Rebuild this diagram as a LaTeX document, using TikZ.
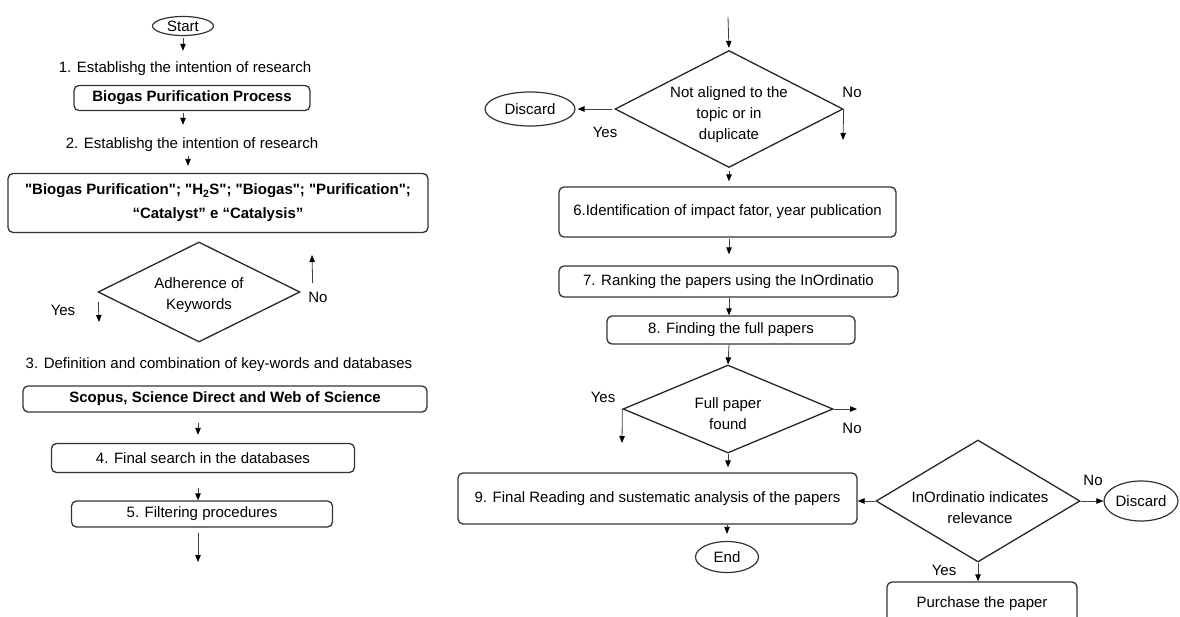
\documentclass[tikz,border=0pt]{standalone}
\usepackage{fontspec}
\setmainfont{Liberation Sans}[Ligatures=TeXOff]
\usetikzlibrary{shapes.geometric,arrows.meta}

\begin{document}
\begin{tikzpicture}[x=1pt, y=-1pt,
        every node/.style={font=\fontsize{15}{21}\selectfont},
        box/.style={draw=black!80, line width=1.3pt, rounded corners=5pt, inner sep=0pt, align=center},
        term/.style={draw=black!80, line width=1.2pt, ellipse, inner sep=0pt},
        choice/.style={draw=black!85, line width=1.3pt, diamond, inner sep=0pt},
        say/.style={inner sep=0pt, align=center},
        lbl/.style={inner xsep=0pt, inner ysep=4pt},
        arr/.style={draw=black!75, line width=0.8pt, -{Triangle[length=7pt,width=5.5pt,color=black]}}]
            \useasboundingbox (0,0) rectangle (1180,616);

            % Left column: steps 1 to 5
            \node[term, minimum width=61pt, minimum height=19pt] (start) at (183,26) {Start};
            \node[lbl] (t1) at (185,69) {1. Establishg the intention of research};
            \node[box, minimum width=236pt, minimum height=25pt] (b1) at (192,98) {\textbf{Biogas Purification Process}};
            \node[lbl] (t2) at (192,145) {2. Establishg the intention of research};
            \node[box, minimum width=420pt, minimum height=59pt, font=\fontsize{15}{24}\selectfont] (kw) at (218,203)
                {\textbf{"Biogas Purification"; "H\textsubscript{2}S"; "Biogas"; "Purification";}\\\textbf{“Catalyst” e “Catalysis”}};
            \node[choice, minimum width=202pt, minimum height=100pt] (adh) at (199,292) {};
            \node[say] (adht) at (199,295) {Adherence of\\Keywords};
            \node[say] (adhy) at (63,310) {Yes};
            \node[say] (adhn) at (318,297) {No};
            \node[lbl] (t3) at (219,365) {3. Definition and combination of key-words and databases};
            \node[box, minimum width=404pt, minimum height=26pt] (db) at (225,399) {\textbf{Scopus, Science Direct and Web of Science}};
            \node[box, minimum width=303pt, minimum height=29pt] (b4) at (203,458) {4. Final search in the databases};
            \node[box, minimum width=261pt, minimum height=26pt] (b5) at (202,514) {5. Filtering procedures};
            \coordinate (adhyes) at (99,322);
            \coordinate (adhback) at (312,255);
            \coordinate (outL) at (198,562);

            \draw[arr, shorten <=2pt, shorten >=7pt] (start.south) -- (start.south |- t1.north);
            \draw[arr, shorten <=2pt, shorten >=9pt] (b1.south -| start) -- (t2.north -| start);
            \draw[arr, shorten >=7pt] (t2.south -| 188,0) -- (kw.north -| 188,0);
            \draw[arr] ([xshift=1pt,yshift=-10pt]adh.west) -- (adhyes);
            \draw[arr] ([xshift=12pt,yshift=9pt]adh.east) -- (adhback);
            \draw[arr, shorten <=10pt, shorten >=8pt] (db.south -| outL) -- (b4.north -| outL);
            \draw[arr, shorten <=15pt] (b4.south -| outL) -- (b5.north -| outL);
            \draw[arr, shorten <=5pt] (b5.south -| outL) -- (outL);

            % Right column: steps 6 to 9
            \coordinate (inR) at (728,17);
            \node[choice, minimum width=228pt, minimum height=117pt] (nal) at (729,109) {};
            \node[say] (nalt) at (729,115) {Not aligned to the\\topic or in\\duplicate};
            \node[term, minimum width=90pt, minimum height=34pt] (dis1) at (530,109) {Discard};
            \node[say] (naly) at (605,132) {Yes};
            \node[say] (naln) at (852,92) {No};
            \coordinate (nalno) at (843,140);
            \node[box, minimum width=337pt, minimum height=50pt] (b6) at (727.5,212) {6.Identification of impact fator, year publication};
            \node[box, minimum width=339pt, minimum height=31pt] (b7) at (728.5,281.5) {7. Ranking the papers using the InOrdinatio};
            \node[box, minimum width=248pt, minimum height=28pt] (b8) at (731,330) {8. Finding the full papers};
            \node[choice, minimum width=210pt, minimum height=88pt] (fp) at (728,409) {};
            \node[say] (fpt) at (728,414) {Full paper\\found};
            \node[say] (fpy) at (603,397) {Yes};
            \node[say] (fpn) at (852,428) {No};
            \coordinate (fpyes) at (622,443);
            \coordinate (fpno) at (857,409);
            \node[box, minimum width=399pt, minimum height=51pt] (b9) at (657.5,498.5) {9. Final Reading and sustematic analysis of the papers};
            \node[term, minimum width=63pt, minimum height=31pt] (end) at (727,557) {End};

            \draw[arr, shorten >=2pt] (inR) -- (nal.north);
            \draw[arr, shorten <=2pt, shorten >=2pt] (nal.west) -- (dis1.east);
            \draw[arr] (nal.east) -- (nalno);
            \draw[arr, shorten <=3pt, shorten >=5pt] (nal.south) -- (nal.south |- b6.north);
            \draw[arr, shorten <=1pt, shorten >=11pt] (b6.south -| nal) -- (b7.north -| nal);
            \draw[arr] (b7.south -| nal) -- (b8.north -| nal);
            \draw[arr] (b8.south -| nal) -- (fp.north);
            \draw[arr] (fp.west) -- (fpyes);
            \draw[arr] (fp.east) -- (fpno);
            \draw[arr, shorten >=5pt] (fp.south) -- (fp.south |- b9.north);
            \draw[arr, shorten >=7pt] (b9.south -| end) -- (end.north);

            % Relevance check and purchase
            \node[choice, minimum width=204pt, minimum height=122pt] (ino) at (978,501) {};
            \node[say] (inot) at (980,508) {InOrdinatio indicates\\relevance};
            \node[term, minimum width=74pt, minimum height=40pt] (dis2) at (1141,501) {Discard};
            \node[say] (inon) at (1093,480) {No};
            \node[say] (inoy) at (944,570) {Yes};
            \node[box, minimum width=190pt, minimum height=44pt] (buy) at (982,604) {Purchase the paper};

            \draw[arr] (ino.west) -- (ino.west -| b9.east);
            \draw[arr] (ino.east) -- (dis2.west);
            \draw[arr] (ino.south) -- (ino.south |- buy.north);
        \end{tikzpicture}
\end{document}
